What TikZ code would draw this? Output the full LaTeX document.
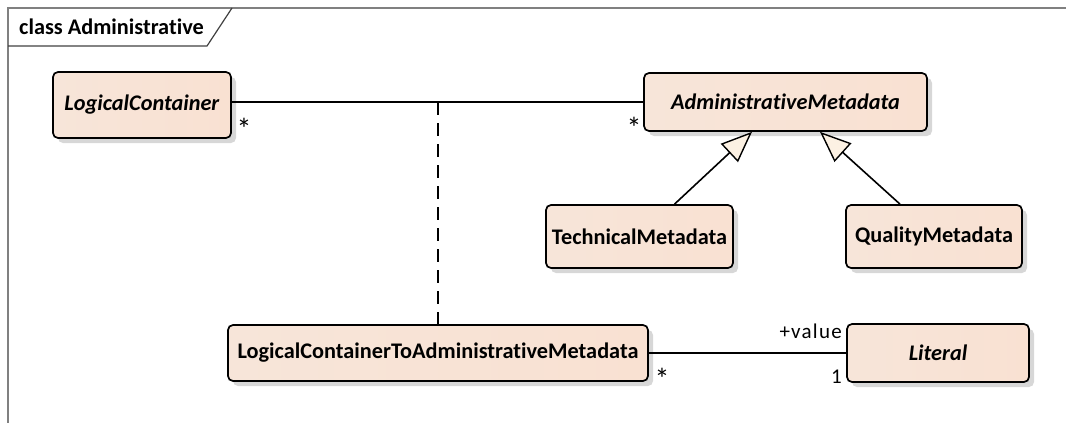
\documentclass[tikz,border=0pt]{standalone}
\usepackage{fontspec}
\setmainfont[Ligatures=NoCommon]{Carlito}
\usetikzlibrary{arrows.meta,shadows}

\definecolor{boxL}{RGB}{247,229,217}
\definecolor{boxM}{RGB}{253,248,244}
\definecolor{boxR}{RGB}{249,225,210}
\definecolor{gentri}{RGB}{252,241,227}
\definecolor{framegray}{RGB}{128,128,128}
\definecolor{shadowgray}{RGB}{215,215,215}

\tikzset{
  umlclass/.style={draw=black, line width=1.7pt, rounded corners=5pt,
    left color=boxL, middle color=boxM, right color=boxR,
    inner sep=0pt, font=\fontsize{22.3}{26}\selectfont\bfseries,
    general shadow={shadow xshift=5pt, shadow yshift=-5pt, fill=shadowgray, draw=none}},
  assoc/.style={draw=black, line width=1.6pt},
  assocdash/.style={assoc, dash pattern=on 13pt off 8pt},
  generalize/.style={assoc, -{Triangle[length=31pt, width=25pt, fill=gentri, line width=1.4pt]}},
  mult/.style={inner sep=0pt, font=\fontsize{21}{24}\selectfont},
  star/.style={mult, anchor=north, font=\fontsize{30}{32}\selectfont},
  frameline/.style={draw=framegray, line width=1.8pt},
}

\begin{document}
\begin{tikzpicture}[x=1pt, y=-1pt]
  \useasboundingbox (0,0) rectangle (1066,423);

  % diagram frame and its name tab
  \draw[frameline] (8,423) -- (8,8) -- (1066,8);
  \draw[draw=black!75, line width=1.2pt] (8,46) -- (207,46) -- (232,8);
  \node[anchor=west, inner sep=0pt, font=\fontsize{22.3}{26}\selectfont\bfseries]
    (title) at (19,27) {class Administrative};

  % classes
  \node[umlclass, minimum width=178pt, minimum height=66pt] (lc) at (142,105)
    {\textit{LogicalContainer}};
  \node[umlclass, minimum width=283pt, minimum height=58pt] (am) at (785.5,102)
    {\textit{AdministrativeMetadata}};
  \node[umlclass, minimum width=187pt, minimum height=63pt] (tm) at (639.5,236.5)
    {TechnicalMetadata};
  \node[umlclass, minimum width=176pt, minimum height=63pt] (qm) at (934,236.5)
    {QualityMetadata};
  \node[umlclass, minimum width=420pt, minimum height=56pt] (lcam) at (438,353)
    {LogicalContainerToAdministrativeMetadata};
  \node[umlclass, minimum width=182pt, minimum height=58pt] (lit) at (938,353)
    {\textit{Literal}};

  % association with its association class
  \draw[assoc] (lc.east |- am.west) -- (am.west);
  \coordinate (assocmid) at (lcam.north |- am.west);
  \draw[assocdash] (assocmid) -- (lcam.north);
  \node[star] (m1) at (244,118) {*};
  \node[star] (m2) at (634,117) {*};

  % generalizations
  \draw[generalize] ([xshift=35pt]tm.north) -- ([xshift=-33.5pt]am.south);
  \draw[generalize] ([xshift=-34pt]qm.north) -- ([xshift=34.5pt]am.south);

  % association to Literal
  \draw[assoc] (lcam.east |- lit.west) -- (lit.west);
  \node[star] (m3) at (662,368) {*};
  \node[mult, anchor=base east] (m4) at (842,383) {1};
  \node[mult, anchor=base east, font=\fontsize{21}{24}\selectfont\addfontfeature{LetterSpace=6}]
    (role) at (842,338) {+value};
\end{tikzpicture}
\end{document}
